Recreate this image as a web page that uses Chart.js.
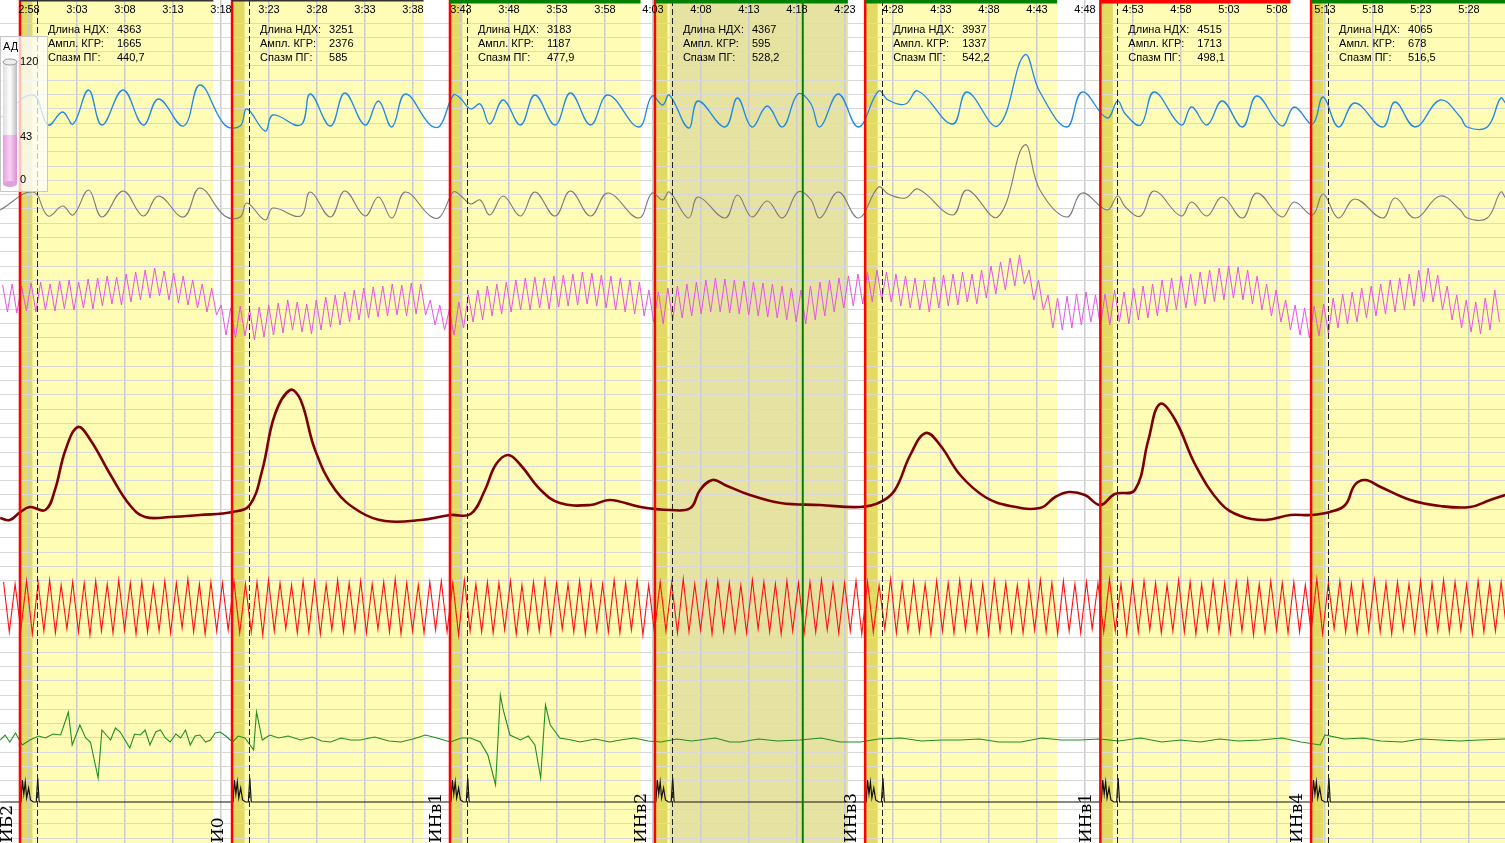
<!DOCTYPE html>
<html><head><meta charset="utf-8">
<script src="https://cdn.jsdelivr.net/npm/chart.js@4"></script>
<style>html,body{margin:0;padding:0;background:#fff;overflow:hidden}</style>
</head><body>
<canvas id="c" width="1505" height="843"></canvas>
<script>
// ---- data (time in minutes from 0:00) ----
const tickTimes = [178,183,188,193,198,203,208,213,218,223,228,233,238,243,248,253,258,263,268,273,278,283,288,293,298,303,308,313,318,323,328];
const segStarts = [177.06,199.15,221.85,243.2,265.1,289.6,311.55];
const segEnds   = [197.2,219.1,241.7,263.3,285.1,309.4,331.8];
const lenNDH  = ["4363","3251","3183","4367","3937","4515","4065"];
const amplKGR = ["1665","2376","1187","595","1337","1713","678"];
const spasmPG = ["440,7","585","477,9","528,2","542,2","498,1","516,5"];
const bottomLabels = ["И0","ИНв1","ИНв2","ИНв3","ИНв1","ИНв4"];
const topBarColors = ["#333","#333","#008000","#008000","#008000","#ff0000","#008000"];

const blueT = [175.0,178.4,180.0,181.5,182.6,184.2,185.6,187.8,189.9,191.5,194.1,195.8,198.4,200.0,200.7,202.6,203.4,206.3,207.3,209.4,210.9,213.0,214.4,215.8,217.2,219.8,220.8,222.2,222.9,224.0,225.0,226.0,227.4,229.2,230.7,232.8,234.4,236.5,238.3,241.5,242.9,244.0,244.7,246.7,247.7,250.5,251.8,253.3,254.9,256.5,258.1,259.4,260.4,262.3,264.4,266.5,267.5,269.3,270.6,274.2,275.7,278.9,281.7,283.3,286.1,287.7,290.3,291.4,292.2,293.8,295.2,298.0,299.1,300.7,302.3,304.4,305.9,308.5,309.8,311.7,312.8,314.4,316.1,319.0,320.3,322.4,325.0,327.1,327.8,329.9,331.3,331.8];
const blueV = [12,35,5,18,6,40,5,40,5,31,4,45,5,4,21,-1,15,5,36,4,37,5,29,3,36,5,4,35,32,21,26,6,30,5,35,5,37,5,35,3,34,25,35,2,29,3,32,3,24,3,36,27,3,36,3,39,30,26,39,6,38,4,75,38,3,38,12,29,16,5,38,5,23,5,29,3,34,4,23,6,33,3,27,3,28,3,30,13,3,3,32,27];
const grayV = [10,28,4,14,5,30,3,29,4,24,3,32,4,3,17,0,12,4,28,3,29,4,23,2,28,4,3,28,25,16,20,5,24,4,28,4,29,4,27,2,27,20,28,2,23,2,25,3,19,2,28,21,2,28,2,33,26,22,31,5,30,3,75,30,3,27,10,24,13,4,29,4,18,4,23,2,27,3,18,5,26,2,21,2,22,2,24,10,2,2,28,22];

const pinkPeaks = [65,66,64,67,68,66,69,70,68,71, 72,74,73,76,78,80,82,79,77,74, 70,66,62,45,42,44,40,43,45,47, 50,48,46,50,53,55,58,60,62,63, 64,66,65,67,66,50,45,40,48,55, 60,64,66,68,70,72,73,72,74,75, 76,78,77,75,74,72,70,68,60,58, 62,64,66,68,70,72,71,70,69,68, 67,66,64,62,60,64,68,70,72,74, 76,78,80,78,76,74,72,70,73,75, 76,78,76,80,84,88,92,95,80,70, 55,52,54,56,58,55,56,60,58,62, 64,66,70,72,74,76,78,80,82,84, 83,80,74,66,60,50,45,42,44,46, 52,56,58,62,64,66,70,72,76,80, 82,75,64,55,50,48,52,60];
const pinkTroughs = [38,37,39,38,40,39,41,40,42,41, 44,46,45,48,50,52,54,50,47,45, 42,38,35,15,12,14,10,13,15,17, 20,18,16,20,23,25,28,30,32,33, 34,35,34,36,35,25,20,15,22,28, 30,34,36,38,40,40,42,41,43,44, 45,46,44,42,40,38,36,34,28,26, 30,32,34,36,38,38,37,36,35,34, 33,32,30,28,26,30,34,38,42,44, 46,48,50,48,44,42,40,38,42,44, 45,48,46,52,56,60,64,66,50,40, 22,20,22,25,28,24,25,28,26,30, 32,34,38,40,42,44,46,48,50,52, 50,46,40,34,28,20,15,12,14,16, 22,26,28,32,34,36,38,40,44,48, 48,40,30,22,18,16,20,28];

const redPeaks = [58,56,59,57,60,55,58,57,59,56, 60,57,58,55,59,57,61,56,58,57, 59,56,58,60,57,55,59,58,56,60, 57,59,56,58,61,57,55,58,59,57, 60,56,58,57,59,55,58,60,57,56, 59,58,56,60,57,59,55,58,57,61, 56,58,59,57,55,60,58,56,59,57, 58,60,56,57,59,58,55,61,57,58, 56,59,57,60,58,56,59,57,55,58, 60,57,59,56,58,57,61,56,58,59, 57,55,60,58,56,59,57,58,60,56, 59,57,58,55,61,57,59,56,58,60, 57,58,56,59,57,60,58,56,59,57, 58];
const redTroughs = [8,10,6,9,7,11,8,5,9,7, 10,6,8,9,7,12,8,6,9,10, 7,8,5,9,11,7,8,6,10,8, 9,7,11,8,6,9,7,10,8,5, 9,8,7,10,6,8,9,7,11,8, 6,9,8,7,10,5,8,9,7,8, 10,6,9,8,7,11,8,6,9,7, 8,10,7,9,6,8,11,7,9,8, 6,9,7,10,8,5,9,8,7,10, 8,6,9,7,11,8,9,6,8,10, 7,9,8,6,10,8,7,9,5,8, 10,7,8,9,6,11,8,7,9,8, 6,10,8,7,9,8,10,6,8,9, 7];

const darkT = [175.0,176.0,177.1,178.1,179.7,180.7,181.8,183.1,184.4,186.5,188.5,190.1,192.7,195.8,199.2,201.0,202.3,203.6,205.2,206.3,207.8,209.9,212.5,215.1,218.8,221.9,224.0,225.5,226.6,227.9,229.2,231.3,233.3,236.5,238.5,241.7,244.8,246.9,247.9,249.2,250.5,253.1,256.3,260.4,264.6,266.7,268.2,269.8,271.4,272.9,275.0,277.6,280.2,283.3,284.9,286.3,288.0,289.6,291.1,293.2,294.6,295.8,297.4,299.5,302.1,304.2,306.8,309.4,311.6,313.5,315.1,316.1,317.2,318.8,321.9,325.0,328.1,330.2,331.8];
const darkV = [12,10,18,23,20,40,80,103,90,55,25,13,13,15,18,25,60,115,140,130,80,40,18,9,10,15,16,40,65,75,65,40,27,25,30,23,20,22,40,50,45,35,27,25,23,28,40,75,97,85,55,33,24,22,33,38,35,25,36,40,90,126,110,65,27,14,10,15,15,18,25,45,50,43,30,24,23,30,35];

const greenT = [175.0,175.5,176.0,176.6,177.3,178.1,179.0,179.7,180.5,181.3,182.1,182.5,183.3,183.9,184.4,185.2,185.6,186.5,187.0,187.5,188.0,188.5,189.0,189.6,190.1,190.6,191.2,191.7,192.2,192.7,193.3,193.8,194.3,194.8,195.3,195.8,196.4,196.9,197.4,197.9,198.5,199.2,199.8,200.5,201.4,201.7,202.3,203.1,204.0,205.0,206.3,207.5,208.5,209.4,210.5,211.5,212.5,214.0,215.5,216.7,218.0,219.3,220.5,221.9,223.0,224.0,225.0,225.8,226.6,227.1,227.4,228.1,229.2,230.0,230.7,231.3,231.8,232.3,233.3,234.5,235.4,237.0,238.5,239.6,241.0,242.5,243.8,245.5,247.0,247.9,249.5,251.0,252.1,254.0,256.0,258.3,260.5,262.5,264.6,266.5,268.8,271.0,273.0,275.0,277.0,279.0,281.3,283.5,285.5,287.5,289.5,291.5,293.8,296.0,298.0,300.0,302.0,304.0,306.3,308.5,310.5,312.5,313.0,315.0,317.0,318.8,321.0,323.0,325.0,327.0,329.0,331.8];
const greenV = [20,25,18,27,15,20,24,22,26,25,48,15,35,22,18,-18,30,20,32,28,20,12,26,25,30,15,28,30,22,18,26,22,30,15,24,25,18,20,27,28,24,18,24,22,10,48,20,25,22,24,20,23,19,18,22,20,20,23,19,18,21,25,22,18,22,22,18,5,-25,65,50,25,20,24,15,-18,55,35,22,20,18,21,18,20,22,19,18,21,19,20,22,18,18,21,19,20,22,18,18,21,22,19,20,20,21,18,18,22,20,20,21,19,22,18,20,18,21,19,20,22,18,15,25,21,22,19,18,21,20,19,20,21,19,20,22,18,20,21,19,20];

const blackOffsets = [0,0.15,0.3,0.45,0.6,0.8,1.0,1.3,1.6,1.75,1.9];
const blackShape   = [0,22,8,20,4,14,2,0,0,24,0];

// ---- vertical placement of each trace (row where value 0 lies, in axis units) ----
const H = 843;
const base = {blue:130, gray:220, pink:350, dark:530, red:640, green:760, black:802};

function pts(ts, vs, b){ return ts.map((t,i)=>({x:t, y:b - vs[i]})); }
const pinkPts = [];
pinkPeaks.forEach((p,i)=>{ const t0 = 175 + i*0.99; pinkPts.push({x:t0+0.25, y:base.pink-p}); pinkPts.push({x:t0+0.75, y:base.pink-pinkTroughs[i]}); });
const redPts = [];
redPeaks.forEach((p,i)=>{ const t0 = 175 + i*1.2; redPts.push({x:t0+0.35, y:base.red-p}); redPts.push({x:t0+0.95, y:base.red-redTroughs[i]}); });
const blackPts = [{x:175, y:base.black}];
segStarts.forEach(s=>{ blackOffsets.forEach((o,j)=>blackPts.push({x:s+0.1+o, y:base.black-blackShape[j]})); });
blackPts.push({x:331.8, y:base.black});
const grayPts = pts(blueT, grayV, base.gray);

const X0 = 174.98, X1 = 331.75;

const bgPlugin = {
  id:'bg',
  beforeDraw(ch){
    const c = ch.ctx, xs = ch.scales.x;
    const px = v => xs.getPixelForValue(v);
    c.save();
    c.fillStyle = '#fff'; c.fillRect(0,0,ch.width,ch.height);
    segStarts.forEach((s,i)=>{
      c.fillStyle = '#fffcb6'; c.fillRect(px(s),0,px(segEnds[i])-px(s),H);
    });
    c.fillStyle = '#e6e3a2'; c.fillRect(px(244.75),0,px(263.3)-px(244.75),H);
    segStarts.forEach(s=>{ c.fillStyle = '#e2da62'; c.fillRect(px(s),0,px(s+1.3)-px(s),H); });
    c.restore();
  },
  afterDraw(ch){
    const c = ch.ctx, xs = ch.scales.x;
    const px = v => xs.getPixelForValue(v);
    c.save();
    c.strokeStyle = '#222'; c.lineWidth = 1; c.setLineDash([6,3]);
    segStarts.forEach(s=>{ const x = Math.round(px(s+1.75))+0.5; c.beginPath(); c.moveTo(x,0); c.lineTo(x,H); c.stroke(); });
    c.setLineDash([]);
    c.strokeStyle = '#008000'; c.lineWidth = 2; c.beginPath(); c.moveTo(px(258.6),0); c.lineTo(px(258.6),H); c.stroke();
    c.strokeStyle = '#ff0000'; c.lineWidth = 2.5;
    segStarts.forEach(s=>{ c.beginPath(); c.moveTo(px(s),0); c.lineTo(px(s),H); c.stroke(); });
    segStarts.forEach((s,i)=>{ c.fillStyle = topBarColors[i]; const h = topBarColors[i]==='#333'?1.5:3.5; c.fillRect(px(s),0,px(segEnds[i])-px(s),h); });
    c.fillStyle = '#000'; c.font = '11px Arial, "Liberation Sans", sans-serif'; c.textAlign = 'center'; c.textBaseline = 'middle';
    tickTimes.forEach(t=>{ const h = Math.floor(t/60), m = t%60; c.fillText(h+':'+String(m).padStart(2,'0'), px(t), 10); });
    c.textAlign = 'left';
    segStarts.forEach((s,i)=>{
      const x = px(s)+28;
      c.fillText('Длина НДХ:', x, 30); c.fillText(lenNDH[i], x+69, 30);
      c.fillText('Ампл. КГР:', x, 44);  c.fillText(amplKGR[i], x+69, 44);
      c.fillText('Спазм ПГ:', x, 58);   c.fillText(spasmPG[i], x+69, 58);
    });
    c.font = '17px "DejaVu Serif", "Liberation Serif", serif';
    bottomLabels.forEach((l,i)=>{
      c.save(); c.translate(px(segStarts[i+1])-5, 843); c.rotate(-Math.PI/2);
      c.textAlign='left'; c.textBaseline='bottom'; c.fillText(l, 0, 0); c.restore();
    });
    c.save(); c.translate(16, 843); c.rotate(-Math.PI/2); c.textAlign='left'; c.textBaseline='bottom'; c.fillText('ИБ2', 0, 0); c.restore();
    c.fillStyle = 'rgba(255,255,255,0.75)'; c.fillRect(0,36,48,156);
    c.strokeStyle = '#c8c8c8'; c.lineWidth = 1; c.strokeRect(0.5,36.5,47,155);
    c.fillStyle = '#000'; c.font = '11px Arial, sans-serif'; c.fillText('АД', 3, 47);
    const g = c.createLinearGradient(3,0,17,0); g.addColorStop(0,'#ddd'); g.addColorStop(0.5,'#fff'); g.addColorStop(1,'#bbb');
    c.fillStyle = g; c.fillRect(3,62,14,122);
    const pk = c.createLinearGradient(3,0,17,0); pk.addColorStop(0,'#e6a0e0'); pk.addColorStop(0.5,'#f8d0f4'); pk.addColorStop(1,'#d890d0');
    c.fillStyle = pk; c.fillRect(3,135,14,49);
    c.beginPath(); c.ellipse(10,62,7,3,0,0,Math.PI*2); c.fillStyle='#eee'; c.fill(); c.strokeStyle='#999'; c.stroke();
    c.beginPath(); c.ellipse(10,184,7,3,0,0,Math.PI*2); c.fillStyle='#e0a0dc'; c.fill();
    c.fillStyle = '#000'; c.textBaseline='middle';
    c.fillText('120', 20, 62); c.fillText('43', 20, 137); c.fillText('0', 20, 180);
    c.restore();
  }
};

const ds = (data, color, w, tension) => ({data, borderColor:color, borderWidth:w, pointRadius:0, tension:tension||0, fill:false});

new Chart(document.getElementById('c'), {
  type:'line',
  data:{ datasets:[
    ds(pts(blueT, blueV, base.blue), '#1e88e5', 1.3, 0.4),
    ds(grayPts, '#7a7a7a', 1.1, 0.4),
    ds(pinkPts, '#e655e0', 1, 0),
    ds(pts(darkT, darkV, base.dark), '#7b0000', 2.6, 0.4),
    ds(redPts, '#ff1010', 1.1, 0),
    ds(pts(greenT, greenV, base.green), '#1f8f1f', 1.1, 0),
    ds(blackPts, '#111', 1.2, 0)
  ]},
  options:{
    responsive:false, animation:false,
    layout:{padding:0},
    plugins:{legend:{display:false}, tooltip:{enabled:false}},
    scales:{
      x:{type:'linear', min:X0, max:X1, ticks:{display:false}, border:{display:false},
         grid:{color:'#cccccc', drawTicks:false, lineWidth:1.5},
         afterBuildTicks(s){ s.ticks = tickTimes.map(v=>({value:v})); }},
      y:{type:'linear', min:0, max:H, reverse:true, ticks:{display:false}, border:{display:false},
         grid:{color:'#d8d8d8', drawTicks:false},
         afterBuildTicks(s){ const t=[]; for(let v=23; v<H; v+=14.3) t.push({value:v}); s.ticks=t; }}
    }
  },
  plugins:[bgPlugin]
});
</script>
</body></html>
